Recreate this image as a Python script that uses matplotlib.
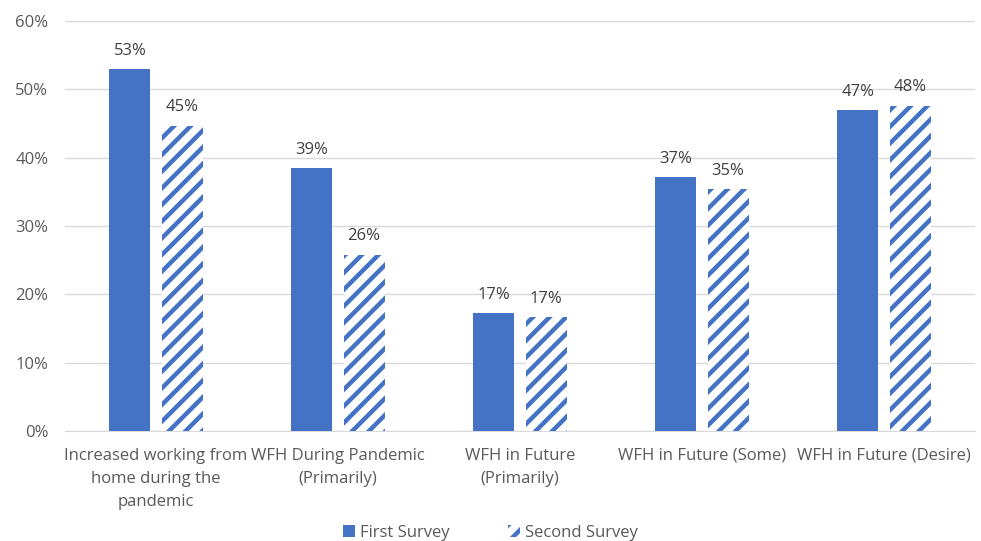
import numpy as np
import matplotlib.pyplot as plt
from matplotlib.patches import Patch
from matplotlib.ticker import PercentFormatter

# Data
categories = ["Increased working from\nhome during the\npandemic",
              "WFH During Pandemic\n(Primarily)",
              "WFH in Future\n(Primarily)",
              "WFH in Future (Some)",
              "WFH in Future (Desire)"]
first_survey = [53.0, 38.5, 17.3, 37.1, 47.0]
second_survey = [44.7, 25.8, 16.7, 35.4, 47.6]
first_labels = ["53%", "39%", "17%", "37%", "47%"]
second_labels = ["45%", "26%", "17%", "35%", "48%"]

BLUE = "#4472C4"
GREY = "#595959"

plt.rcParams['font.family'] = ['Open Sans', 'DejaVu Sans']
plt.rcParams['hatch.linewidth'] = 3.2
plt.rcParams['hatch.color'] = BLUE

fig = plt.figure(figsize=(9.81, 5.41), dpi=100)
ax = fig.add_axes([65 / 981, 110 / 541, 910 / 981, 410 / 541])

x = np.arange(len(categories))
w = 0.225
off = 0.143

b1 = ax.bar(x - off, first_survey, w, color=BLUE, zorder=3)
b2 = ax.bar(x + off, second_survey, w, color="white", edgecolor=BLUE,
            hatch="//", linewidth=0, zorder=3)

for xi, v, s in zip(x, first_survey, first_labels):
    ax.text(xi - off, v + 1.5, s, ha="center", va="bottom", fontsize=12, color="#404040")
for xi, v, s in zip(x, second_survey, second_labels):
    ax.text(xi + off, v + 1.5, s, ha="center", va="bottom", fontsize=12, color="#404040")

ax.set_xlim(-0.5, len(categories) - 0.5)
ax.set_ylim(0, 60)
ax.set_yticks(np.arange(0, 61, 10))
ax.yaxis.set_major_formatter(PercentFormatter(decimals=0))
ax.set_xticks(x)
ax.set_xticklabels(categories, fontsize=12, color=GREY, linespacing=1.6, va="top")
ax.tick_params(axis="y", length=0, labelsize=12, labelcolor=GREY, pad=12)
ax.tick_params(axis="x", length=0, pad=12)
ax.grid(axis="y", color="#D9D9D9", linewidth=1, zorder=0)
for sp in ["top", "right", "left"]:
    ax.spines[sp].set_visible(False)
ax.spines["bottom"].set_color("#D9D9D9")

handles = [Patch(facecolor=BLUE, label="First Survey"),
           Patch(facecolor="white", edgecolor=BLUE, hatch="//", linewidth=0, label="Second Survey")]
fig.legend(handles=handles, loc="center", bbox_to_anchor=(0.5, 8 / 541), ncol=2,
           frameon=False, fontsize=12, labelcolor=GREY, handlelength=0.7, handleheight=0.7,
           handletextpad=0.3, columnspacing=3.5)

fig.savefig("out.png", dpi=100, facecolor="white")
